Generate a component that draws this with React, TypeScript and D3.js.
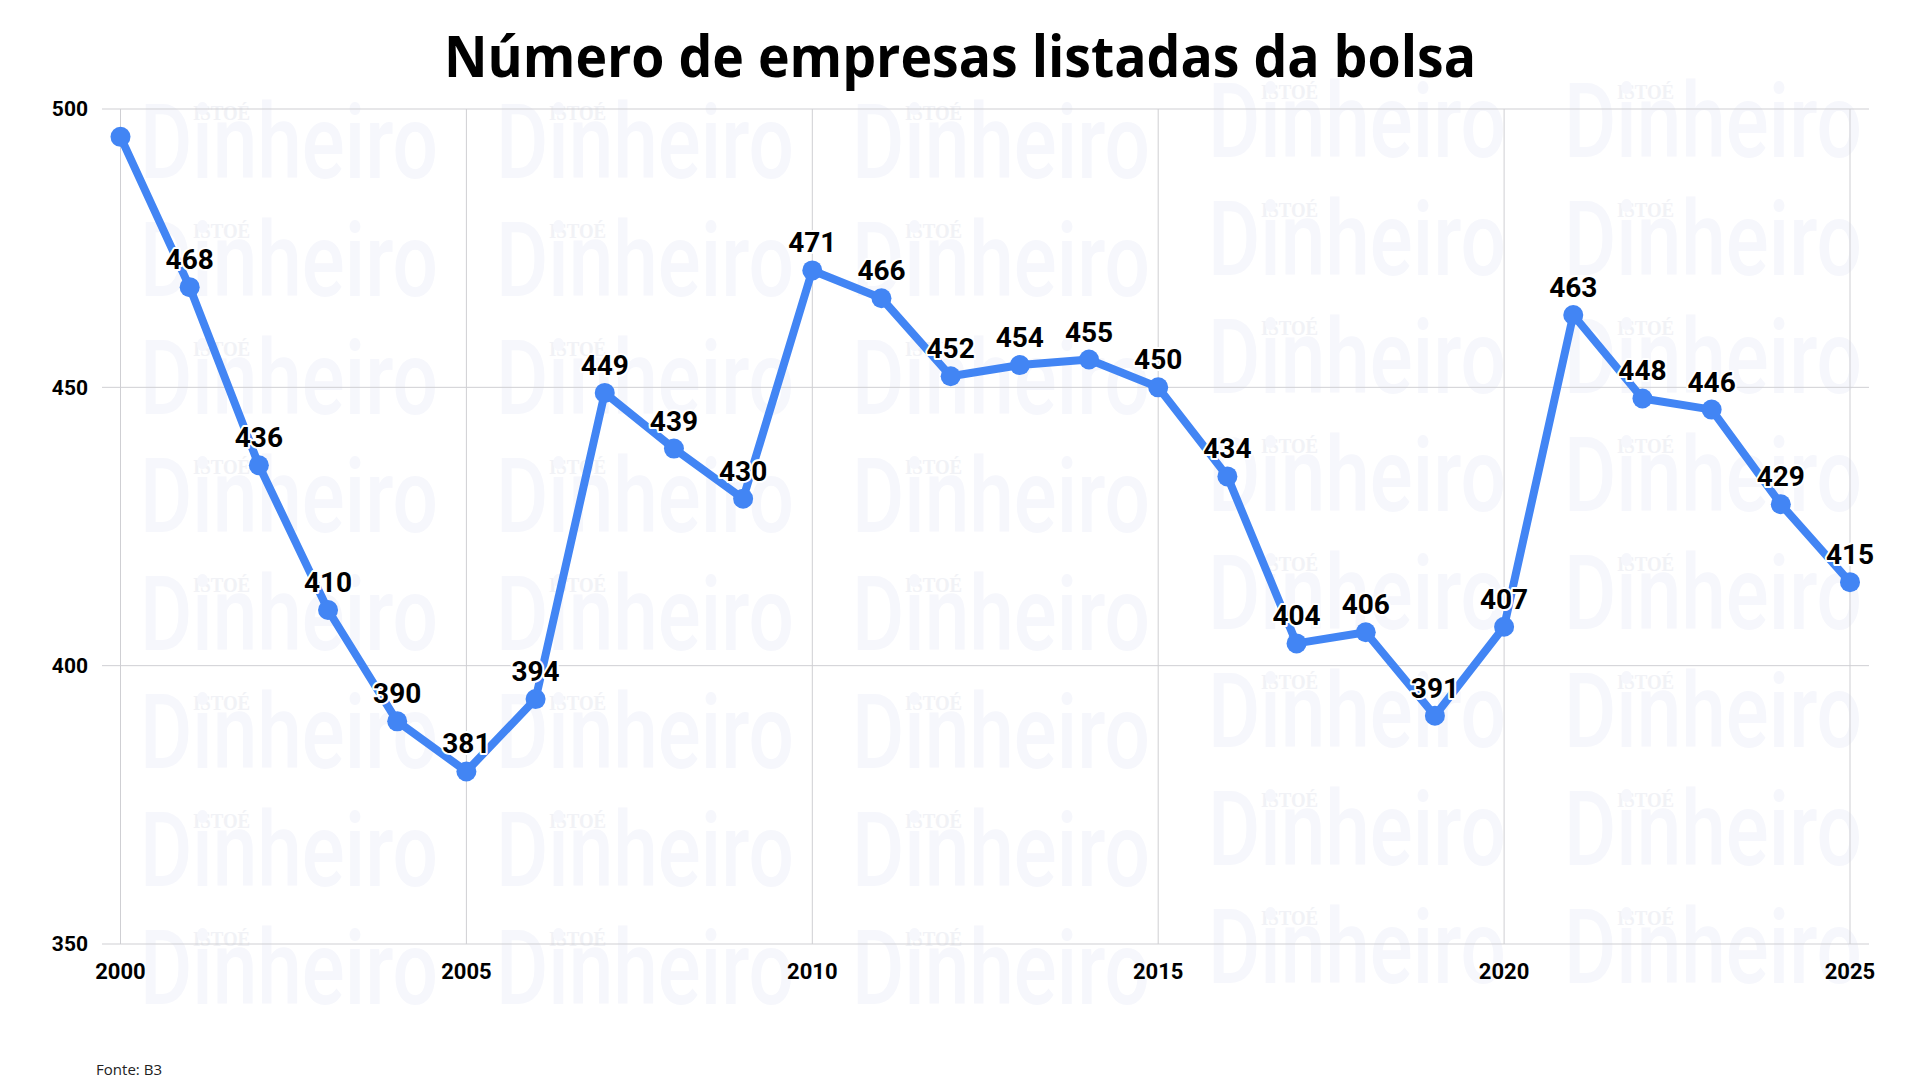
import React from "react";
import * as d3 from "d3";

const years: number[] = [2000, 2001, 2002, 2003, 2004, 2005, 2006, 2007, 2008, 2009, 2010, 2011, 2012, 2013, 2014, 2015, 2016, 2017, 2018, 2019, 2020, 2021, 2022, 2023, 2024, 2025];
const companies: number[] = [495, 468, 436, 410, 390, 381, 394, 449, 439, 430, 471, 466, 452, 454, 455, 450, 434, 404, 406, 391, 407, 463, 448, 446, 429, 415];
const yTicks: number[] = [350, 400, 450, 500];
const xTicks: number[] = [2000, 2005, 2010, 2015, 2020, 2025];
const title = "Número de empresas listadas da bolsa";
const source = "Fonte: B3";

const W = 1920;
const H = 1080;

export default function App() {
  const x = d3.scaleLinear().domain([2000, 2025]).range([120.5, 1850]);
  const y = d3.scaleLinear().domain([350, 500]).range([944, 109]);
  const gridLeft = 102;
  const gridRight = 1869;

  const line = d3
    .line<number>()
    .x((_, i) => x(years[i]))
    .y((d) => y(d));

  const pts = companies.map((v, i) => ({ year: years[i], v, px: x(years[i]), py: y(v) }));

  // watermark tiles
  const wm: { x: number; y: number }[] = [];
  for (let c = 0; c < 5; c++) {
    const base = c < 3 ? 178 : 157;
    for (let r = 0; r < 8; r++) {
      wm.push({ x: 140 + c * 356, y: base + r * 118 });
    }
  }

  return (
    <svg width={W} height={H} style={{ position: "absolute", left: 0, top: 0, background: "#fff" }}>
      <rect x={0} y={0} width={W} height={H} fill="#fff" />
      <g>
        {wm.map((p, i) => (
          <g key={i}>
            <text x={p.x + 53} y={p.y - 58} fontFamily="'Liberation Serif', serif" fontWeight={700} fontSize={22} fill="#f1f2f6" textLength={57} lengthAdjust="spacingAndGlyphs">
              ISTOÉ
            </text>
            <text x={p.x} y={p.y} fontFamily="Roboto, sans-serif" fontWeight={500} fontSize={104} fill="#f6f7fc" textLength={298} lengthAdjust="spacingAndGlyphs">
              Dinheiro
            </text>
          </g>
        ))}
      </g>

      <text x={960} y={77} textAnchor="middle" fontFamily="'Open Sans', sans-serif" fontWeight={700} fontSize={57} fill="#000" textLength={1032} lengthAdjust="spacingAndGlyphs">
        {title}
      </text>

      {yTicks.map((t) => (
        <g key={"y" + t}>
          <line x1={gridLeft} x2={gridRight} y1={y(t)} y2={y(t)} stroke="#cfcfd3" strokeWidth={1} />
          <text x={88} y={y(t)} dy="0.35em" textAnchor="end" fontFamily="Roboto, sans-serif" fontWeight={700} fontSize={21} fill="#000">
            {t}
          </text>
        </g>
      ))}
      {xTicks.map((t) => (
        <g key={"x" + t}>
          <line x1={x(t)} x2={x(t)} y1={y(500)} y2={y(350)} stroke="#cfcfd3" strokeWidth={1} />
          <text x={x(t)} y={979} textAnchor="middle" fontFamily="Roboto, sans-serif" fontWeight={700} fontSize={22} fill="#000">
            {t}
          </text>
        </g>
      ))}

      <path d={line(companies) || ""} fill="none" stroke="#4285f4" strokeWidth={8} strokeLinejoin="round" strokeLinecap="round" />
      {pts.map((p) => (
        <circle key={"c" + p.year} cx={p.px} cy={p.py} r={10} fill="#4285f4" />
      ))}
      {pts
        .filter((p) => p.py - 18 - 22 > y(500))
        .map((p) => (
          <text
            key={"l" + p.year}
            x={p.px}
            y={p.py - 18}
            textAnchor="middle"
            fontFamily="Roboto, sans-serif"
            fontWeight={700}
            fontSize={28}
            fill="#000"
            stroke="#fff"
            strokeWidth={4}
            strokeLinejoin="round"
            paintOrder="stroke"
          >
            {p.v}
          </text>
        ))}

      <text x={96} y={1075} fontFamily="'Open Sans', sans-serif" fontSize={15} fill="#222" textLength={66} lengthAdjust="spacingAndGlyphs">
        {source}
      </text>
    </svg>
  );
}
